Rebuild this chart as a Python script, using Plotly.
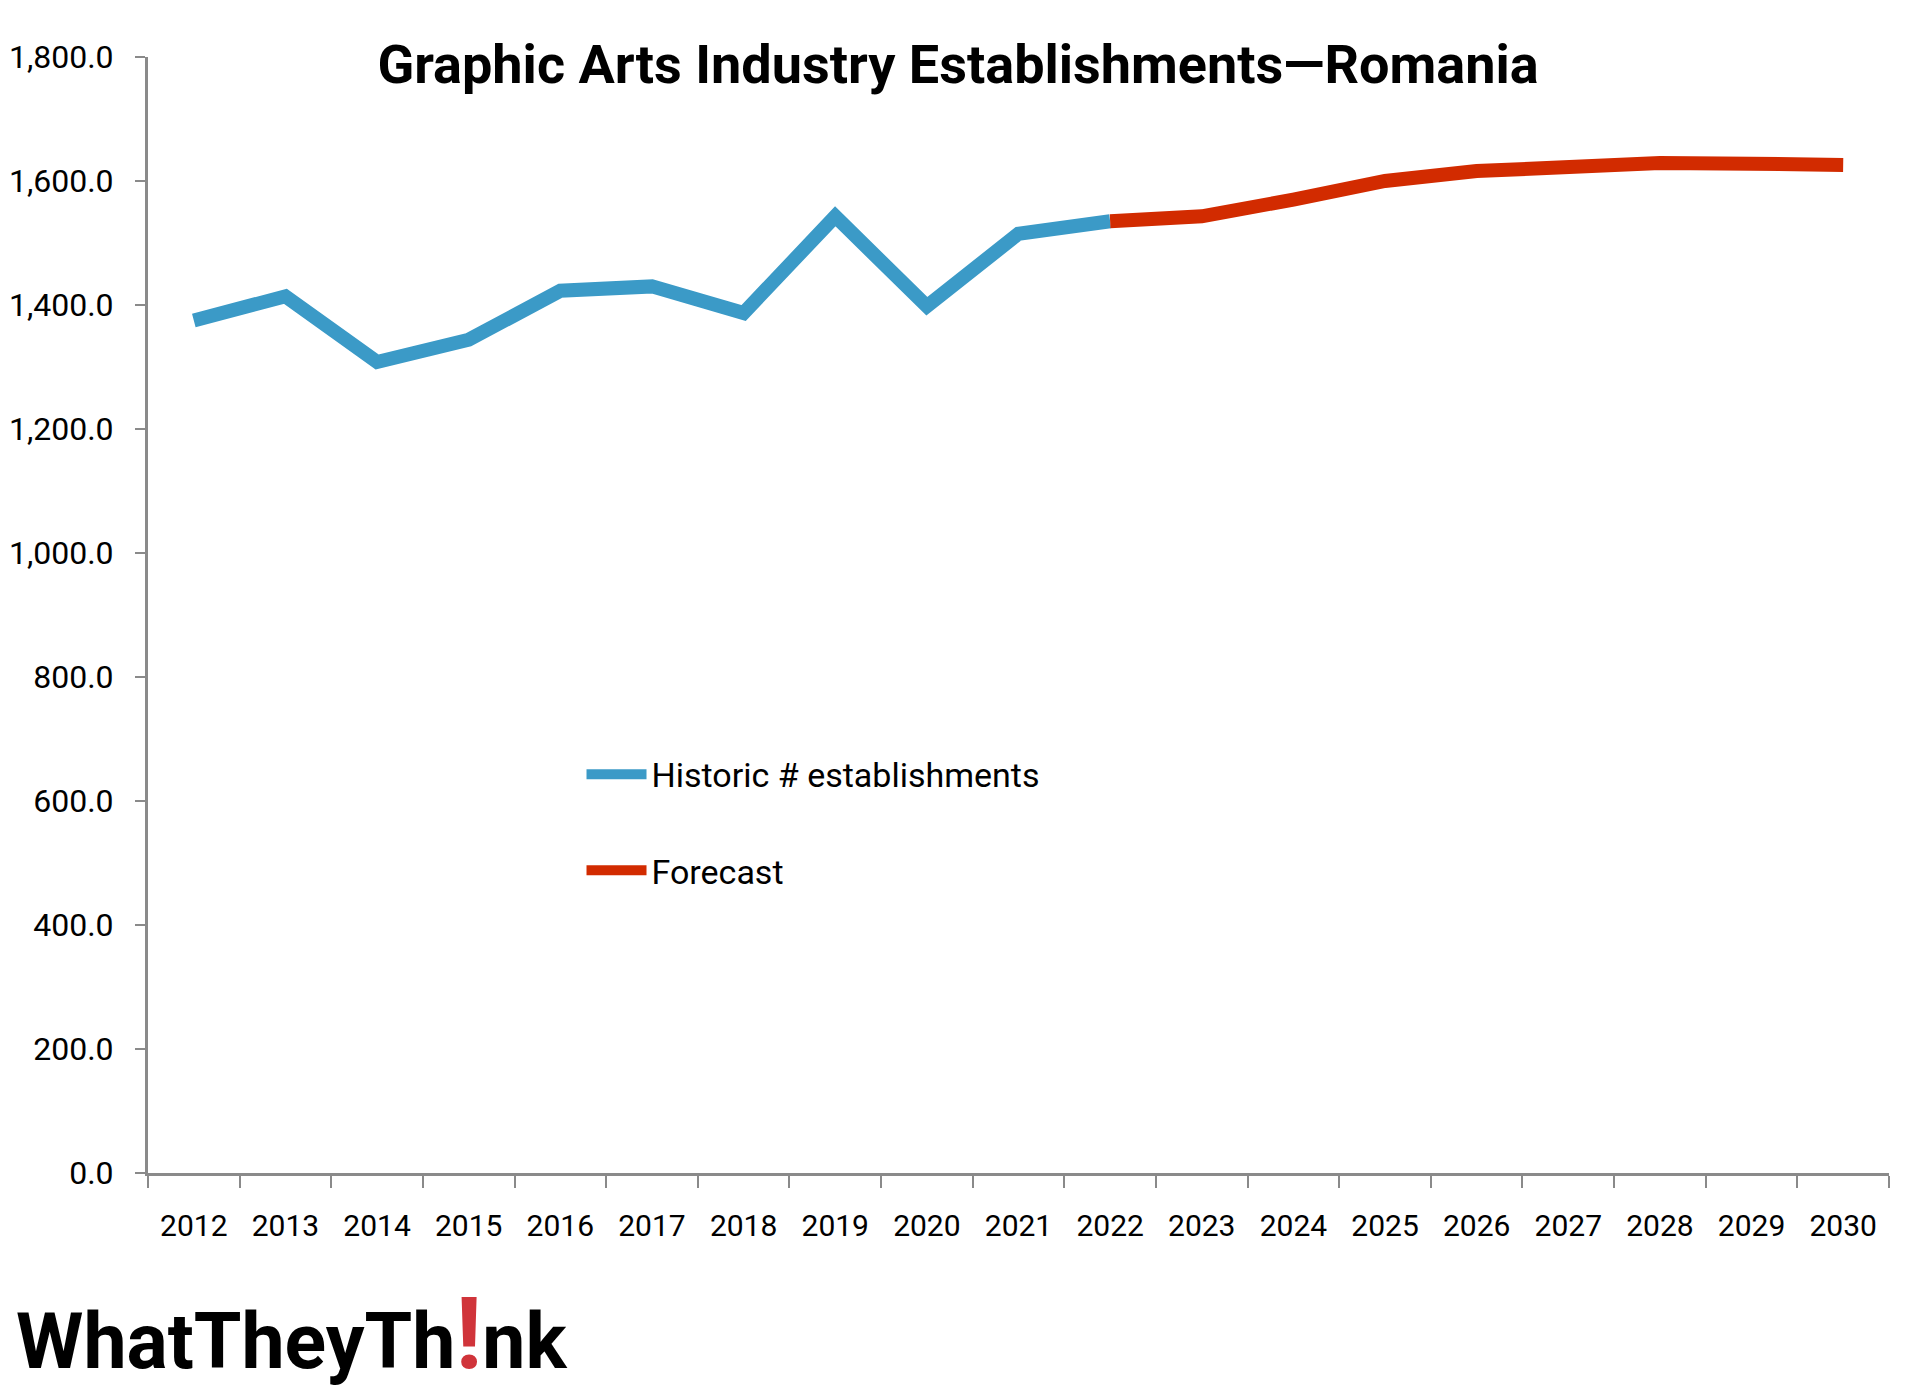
import plotly.graph_objects as go

years = [str(y) for y in range(2012, 2031)]
hist_years = years[:11]          # 2012-2022
hist_values = [1375, 1414, 1308, 1344, 1423, 1430, 1387, 1543, 1398, 1515, 1535]
fc_years = years[10:]            # 2022-2030
fc_values = [1535, 1543, 1570, 1600, 1616, 1625, 1629, 1628, 1626]
y_ticks = [0, 200, 400, 600, 800, 1000, 1200, 1400, 1600, 1800]

FONT = "Roboto, sans-serif"
BLUE = "#3b9ac7"
RED = "#d22b00"
AXIS = "#8a8a8a"

fig = go.Figure()
fig.add_trace(go.Scatter(x=hist_years, y=hist_values, mode="lines",
                         name="Historic # establishments",
                         line=dict(color=BLUE, width=14),
                         legendgroup="h"))
fig.add_trace(go.Scatter(x=fc_years, y=fc_values, mode="lines",
                         name="Forecast",
                         line=dict(color=RED, width=14),
                         legendgroup="f"))

fig.update_layout(
    width=1920, height=1395,
    paper_bgcolor="white", plot_bgcolor="white",
    margin=dict(l=140, r=39, t=49, b=230),
    font=dict(family=FONT, size=31, color="black"),
    title=dict(text="<b>Graphic Arts Industry Establishments—Romania</b>",
               x=0.4948, xanchor="center", y=1 - 56 / 1395, yanchor="middle",
               font=dict(family=FONT, size=54, color="black")),
    legend=dict(x=0.249, xanchor="left", y=0.383, yanchor="top",
                bgcolor="rgba(0,0,0,0)", font=dict(family=FONT, size=34),
                traceorder="grouped", tracegroupgap=49, itemwidth=60),
    showlegend=True,
)

fig.update_xaxes(type="category", range=[-0.5, 18.5], tickson="boundaries",
                 ticks="outside", ticklen=12, tickwidth=2, tickcolor=AXIS,
                 showline=True, linecolor=AXIS, linewidth=3,
                 showgrid=False, zeroline=False, automargin=False, tickangle=0,
                 ticklabelstandoff=24,
                 tickfont=dict(family=FONT, size=30, color="black"))
fig.update_yaxes(range=[0, 1800], tickvals=y_ticks, tickformat=",.1f",
                 ticks="outside", ticklen=10, tickwidth=2, tickcolor=AXIS,
                 showline=True, linecolor=AXIS, linewidth=3,
                 showgrid=False, zeroline=False, automargin=False,
                 ticklabelstandoff=15,
                 tickfont=dict(family=FONT, size=32, color="black"))

# WhatTheyThink logo text
fig.add_annotation(xref="paper", yref="paper",
                   x=-134 / 1741, xanchor="left",
                   y=-(1325 - 1165) / 1116, yanchor="middle",
                   text="<b>WhatTheyTh<span style='color:#d0343a;font-size:100px'>!</span>nk</b>",
                   showarrow=False,
                   font=dict(family=FONT, size=77, color="black"))

fig.write_html("out.html")
